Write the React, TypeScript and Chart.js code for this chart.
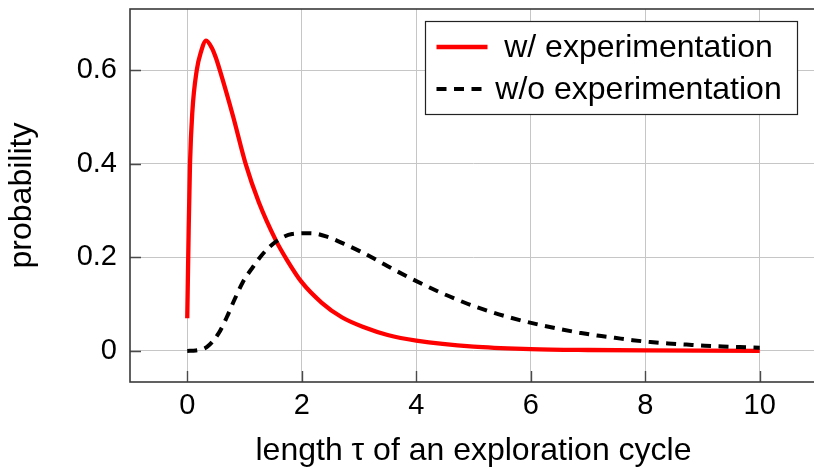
import { useEffect, useRef } from "react";
import { Chart, registerables } from "chart.js";

Chart.register(...registerables);

// Cycle length τ (x) and probability (y) for the two strategies
const W_EXP_X = [0, 0.025, 0.048, 0.088, 0.165, 0.24, 0.33, 0.43, 0.5, 0.57, 0.8, 1.02, 1.25, 1.55, 1.74, 2, 2.35, 2.7, 3.1, 3.5, 4, 5, 6, 7, 8, 9, 10];
const W_EXP_Y = [0.07, 0.26, 0.4, 0.51, 0.6, 0.64, 0.664, 0.648, 0.627, 0.6, 0.502, 0.4, 0.318, 0.236, 0.195, 0.147, 0.103, 0.072, 0.05, 0.034, 0.022, 0.009, 0.004, 0.002, 0.001, 0.0005, 0.0003];

const WO_EXP_X = [0, 0.15, 0.34, 0.55, 0.69, 0.83, 0.97, 1.15, 1.33, 1.55, 1.83, 2.15, 2.45, 2.74, 3.02, 3.3, 3.58, 3.86, 4.14, 4.42, 4.71, 5.0, 5.29, 5.59, 5.9, 6.22, 6.54, 6.85, 7.16, 7.47, 7.78, 8.09, 8.4, 8.72, 9.04, 9.35, 9.65, 10];
const WO_EXP_Y = [0, 0.001, 0.008, 0.038, 0.072, 0.111, 0.147, 0.18, 0.209, 0.234, 0.25, 0.252, 0.244, 0.229, 0.213, 0.195, 0.176, 0.158, 0.141, 0.125, 0.11, 0.096, 0.084, 0.073, 0.063, 0.054, 0.046, 0.039, 0.033, 0.028, 0.023, 0.019, 0.016, 0.0135, 0.011, 0.0095, 0.0082, 0.007];

const SERIES_LABELS = ["w/ experimentation", "w/o experimentation"];

const X_TICKS = [0, 2, 4, 6, 8, 10];
const X_TICK_LABELS = ["0", "2", "4", "6", "8", "10"];
const Y_TICKS = [0, 0.2, 0.4, 0.6];
const Y_TICK_LABELS = ["0", "0.2", "0.4", "0.6"];

const X_TITLE = "length τ of an exploration cycle";
const Y_TITLE = "probability";

const FONT = "'Liberation Sans', Arial, Helvetica, sans-serif";

const toPoints = (xs: number[], ys: number[]) => xs.map((x, i) => ({ x, y: ys[i] }));

// Box frame, inward tick marks and an in-plot legend
const framePlugin = {
  id: "frameAndLegend",
  beforeDatasetsDraw(chart: any) {
    const { ctx, chartArea: a, scales } = chart;
    ctx.save();
    ctx.strokeStyle = "#4a4a4a";
    ctx.lineWidth = 1.4;
    ctx.beginPath();
    for (const v of X_TICKS) {
      const px = Math.round(scales.x.getPixelForValue(v)) + 0.5;
      ctx.moveTo(px, a.bottom);
      ctx.lineTo(px, a.bottom - 11);
    }
    for (const v of Y_TICKS) {
      const py = Math.round(scales.y.getPixelForValue(v)) + 0.5;
      ctx.moveTo(a.left, py);
      ctx.lineTo(a.left + 11, py);
    }
    ctx.stroke();
    ctx.restore();
  },
  afterDraw(chart: any) {
    const { ctx, chartArea: a } = chart;
    ctx.save();
    ctx.strokeStyle = "#3a3a3a";
    ctx.lineWidth = 1.6;
    ctx.strokeRect(a.left, a.top, a.right - a.left, a.bottom - a.top);

    // legend box
    const bw = 372;
    const bh = 93;
    const bx = a.right - 20 - bw;
    const by = a.top + 12;
    ctx.fillStyle = "#ffffff";
    ctx.fillRect(bx, by, bw, bh);
    ctx.strokeStyle = "#222";
    ctx.lineWidth = 1.2;
    ctx.strokeRect(bx + 0.5, by + 0.5, bw, bh);

    const rows = [by + 26, by + 68];
    chart.data.datasets.forEach((ds: any, i: number) => {
      const cy = rows[i];
      ctx.save();
      ctx.strokeStyle = ds.borderColor;
      ctx.lineWidth = ds.borderWidth;
      ctx.setLineDash(ds.borderDash || []);
      ctx.beginPath();
      ctx.moveTo(bx + 11.5, cy);
      ctx.lineTo(bx + 62.5, cy);
      ctx.stroke();
      ctx.restore();
      ctx.fillStyle = "#000";
      ctx.font = `32px ${FONT}`;
      ctx.textAlign = "center";
      ctx.textBaseline = "alphabetic";
      ctx.fillText(ds.label, bx + 213.5, cy + 10);
    });
    ctx.restore();
  },
};

export default function App() {
  const ref = useRef<HTMLCanvasElement>(null);

  useEffect(() => {
    if (!ref.current) return;
    const chart = new Chart(ref.current, {
      type: "scatter",
      data: {
        datasets: [
          {
            label: SERIES_LABELS[0],
            data: toPoints(W_EXP_X, W_EXP_Y),
            showLine: true,
            borderColor: "#ff0000",
            backgroundColor: "#ff0000",
            borderWidth: 4.3,
            pointRadius: 0,
            cubicInterpolationMode: "monotone",
            order: 1,
          },
          {
            label: SERIES_LABELS[1],
            data: toPoints(WO_EXP_X, WO_EXP_Y),
            showLine: true,
            borderColor: "#000000",
            backgroundColor: "#000000",
            borderWidth: 4,
            borderDash: [10, 7.5],
            pointRadius: 0,
            cubicInterpolationMode: "monotone",
            order: 0,
          },
        ],
      },
      options: {
        animation: false,
        responsive: false,
        devicePixelRatio: 1,
        layout: { padding: { top: 9, right: 13, left: 0, bottom: 0 } },
        plugins: {
          legend: { display: false },
          tooltip: { enabled: false },
        },
        scales: {
          x: {
            type: "linear",
            min: -1,
            max: 11,
            afterBuildTicks: (s: any) => {
              s.ticks = X_TICKS.map((v) => ({ value: v }));
            },
            afterFit: (s: any) => {
              s.height = 85;
              s.paddingLeft = 0;
              s.paddingRight = 0;
              s.paddingTop = 0;
              s.paddingBottom = 0;
            },
            ticks: {
              autoSkip: false,
              maxRotation: 0,
              padding: 7,
              color: "#000",
              font: { family: FONT, size: 29, lineHeight: 1.2 },
              callback: (v: any) => X_TICK_LABELS[X_TICKS.indexOf(Number(v))] ?? "",
            },
            grid: { color: "#c6c6c6", lineWidth: 1, drawTicks: false },
            border: { display: false },
            title: {
              display: true,
              text: X_TITLE,
              color: "#000",
              font: { family: FONT, size: 32, lineHeight: 1.0 },
              padding: { top: 0, bottom: 0 },
            },
          },
          y: {
            type: "linear",
            min: -0.0665,
            max: 0.7315,
            afterBuildTicks: (s: any) => {
              s.ticks = Y_TICKS.map((v) => ({ value: v }));
            },
            afterFit: (s: any) => {
              s.width = 130;
              s.paddingLeft = 0;
              s.paddingRight = 0;
              s.paddingTop = 0;
              s.paddingBottom = 0;
            },
            ticks: {
              autoSkip: false,
              padding: 13,
              color: "#000",
              font: { family: FONT, size: 29, lineHeight: 1.2 },
              callback: (v: any) => {
                const idx = Y_TICKS.findIndex((t) => Math.abs(t - Number(v)) < 1e-9);
                return idx >= 0 ? Y_TICK_LABELS[idx] : "";
              },
            },
            grid: { color: "#c6c6c6", lineWidth: 1, drawTicks: false },
            border: { display: false },
            title: {
              display: true,
              text: Y_TITLE,
              color: "#000",
              font: { family: FONT, size: 32, lineHeight: 1.2 },
              padding: { top: 3, bottom: 0 },
            },
          },
        },
      },
      plugins: [framePlugin],
    });
    return () => chart.destroy();
  }, []);

  return (
    <div
      style={{
        position: "fixed",
        left: 0,
        top: 0,
        width: 814,
        height: 467,
        overflow: "hidden",
        background: "#ffffff",
      }}
    >
      <canvas ref={ref} width={830} height={467} style={{ display: "block", width: 830, height: 467 }} />
    </div>
  );
}
